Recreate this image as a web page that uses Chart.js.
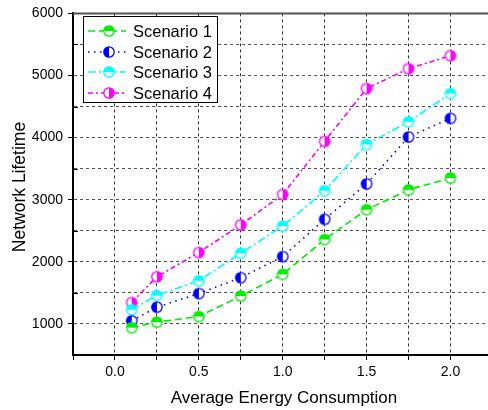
<!DOCTYPE html>
<html>
<head>
<meta charset="utf-8">
<script src="https://cdn.jsdelivr.net/npm/chart.js@4/dist/chart.umd.min.js"></script>
<style>
html,body{margin:0;padding:0;background:#fff;overflow:hidden;}
#wrap{width:500px;height:410px;}
</style>
</head>
<body>
<div id="wrap"><canvas id="c" width="500" height="410"></canvas></div>
<script>
const energy = [0.1, 0.25, 0.5, 0.75, 1.0, 1.25, 1.5, 1.75, 2.0];
const scenario1 = [940, 1030, 1120, 1450, 1800, 2360, 2840, 3160, 3350];
const scenario2 = [1050, 1270, 1490, 1745, 2085, 2685, 3255, 4010, 4310];
const scenario3 = [1230, 1460, 1695, 2140, 2575, 3145, 3890, 4255, 4710];
const scenario4 = [1345, 1760, 2150, 2595, 3085, 3940, 4790, 5110, 5320];
const seriesNames = ['Scenario 1', 'Scenario 2', 'Scenario 3', 'Scenario 4'];
const yTickValues = [1000, 2000, 3000, 4000, 5000, 6000];
const xTickValues = [0.0, 0.5, 1.0, 1.5, 2.0];

const FONT = '"Liberation Sans", Arial, sans-serif';

function halfMarker(color, half) {
  const s = 14, c = s / 2, r = 5.2;
  const cv = document.createElement('canvas');
  cv.width = s; cv.height = s;
  const g = cv.getContext('2d');
  g.fillStyle = '#fff';
  g.beginPath(); g.arc(c, c, r, 0, Math.PI * 2); g.fill();
  g.fillStyle = color;
  g.beginPath();
  let a0, a1;
  if (half === 'top') { a0 = Math.PI; a1 = Math.PI * 2; }
  else if (half === 'bottom') { a0 = 0; a1 = Math.PI; }
  else if (half === 'left') { a0 = Math.PI / 2; a1 = Math.PI * 1.5; }
  else { a0 = -Math.PI / 2; a1 = Math.PI / 2; }
  g.arc(c, c, r, a0, a1); g.closePath(); g.fill();
  g.strokeStyle = color; g.lineWidth = 1.3;
  g.beginPath(); g.arc(c, c, r, 0, Math.PI * 2); g.stroke();
  return cv;
}

const styles = [
  {color: '#00ee00', dash: [7, 4], half: 'top'},
  {color: '#0000ff', dash: [1.5, 4.5], half: 'left'},
  {color: '#00ffff', dash: [8, 3, 2, 3], half: 'top'},
  {color: '#ff00ff', dash: [5, 3, 2, 3], half: 'right'}
];
const allData = [scenario1, scenario2, scenario3, scenario4];

const datasets = allData.map((vals, i) => ({
  label: seriesNames[i],
  data: energy.map((x, j) => ({x: x, y: vals[j]})),
  borderColor: styles[i].color,
  backgroundColor: styles[i].color,
  borderWidth: 1.6,
  borderDash: styles[i].dash,
  pointStyle: halfMarker(styles[i].color, styles[i].half),
  pointRadius: 6,
  tension: 0,
  fill: false
}));

const isMult = (v, m) => Math.abs(v / m - Math.round(v / m)) < 1e-6;

const decor = {
  id: 'decor',
  afterDraw(chart) {
    const ctx = chart.ctx;
    const ca = chart.chartArea;
    const ys = chart.scales.y;
    ctx.save();
    // minor inward ticks on y axis
    ctx.strokeStyle = '#000'; ctx.lineWidth = 1;
    for (let v = ys.min; v <= ys.max; v += 500) {
      if (isMult(v, 1000)) continue;
      const y = Math.round(ys.getPixelForValue(v)) + 0.5;
      ctx.beginPath(); ctx.moveTo(ca.left, y); ctx.lineTo(ca.left + 5, y); ctx.stroke();
    }
    // top border
    ctx.strokeStyle = '#555'; ctx.lineWidth = 2;
    ctx.beginPath(); ctx.moveTo(ca.left, ca.top); ctx.lineTo(chart.width, ca.top); ctx.stroke();
    // y title
    ctx.fillStyle = '#000';
    ctx.font = '17.5px ' + FONT;
    ctx.textAlign = 'center'; ctx.textBaseline = 'middle';
    ctx.save();
    ctx.translate(20, 187); ctx.rotate(-Math.PI / 2);
    ctx.fillText('Network Lifetime', 0, 0);
    ctx.restore();
    // x title
    ctx.font = '17px ' + FONT;
    ctx.fillText('Average Energy Consumption', 284, 398);
    // legend
    const bx = 83.5, by = 16.5, bw = 134, bh = 86;
    ctx.fillStyle = '#fff'; ctx.fillRect(bx, by, bw, bh);
    ctx.strokeStyle = '#000'; ctx.lineWidth = 1; ctx.strokeRect(bx, by, bw, bh);
    const rows = [31, 52, 72, 93];
    chart.data.datasets.forEach((ds, i) => {
      const y = rows[i];
      ctx.save();
      ctx.strokeStyle = ds.borderColor; ctx.lineWidth = ds.borderWidth;
      ctx.setLineDash(ds.borderDash);
      ctx.beginPath(); ctx.moveTo(88, y); ctx.lineTo(126, y); ctx.stroke();
      ctx.restore();
      const m = ds.pointStyle;
      ctx.drawImage(m, 109 - m.width / 2, y - m.height / 2);
      ctx.fillStyle = '#000';
      ctx.font = '16.5px ' + FONT;
      ctx.textAlign = 'left'; ctx.textBaseline = 'middle';
      ctx.fillText(ds.label, 133, y + 1);
    });
    ctx.restore();
  }
};

new Chart(document.getElementById('c'), {
  type: 'line',
  data: {datasets: datasets},
  plugins: [decor],
  options: {
    responsive: false,
    animation: false,
    devicePixelRatio: 1,
    layout: {padding: {top: 11, right: 6, left: 0, bottom: 0}},
    plugins: {legend: {display: false}, tooltip: {enabled: false}},
    scales: {
      x: {
        type: 'linear',
        min: -0.25, max: 2.25,
        afterFit(s) { s.height = 55; },
        afterBuildTicks(s) {
          const t = [];
          for (let v = -0.25; v <= 2.25 + 1e-9; v += 0.25) t.push({value: Math.round(v * 100) / 100});
          s.ticks = t;
        },
        ticks: {
          autoSkip: false, maxRotation: 0, padding: 4,
          color: '#000', font: {family: FONT, size: 14},
          callback: (v) => xTickValues.some(t => Math.abs(t - v) < 1e-6) ? Number(v).toFixed(1) : ''
        },
        grid: {
          color: (c) => (c.tick && (c.tick.value <= -0.25 + 1e-6 || c.tick.value >= 2.25 - 1e-6)) ? 'rgba(0,0,0,0)' : '#333',
          lineWidth: 1, drawTicks: true, tickLength: 5, tickColor: '#000', tickWidth: 1
        },
        border: {display: true, color: '#000', width: 2, dash: [3, 3]}
      },
      y: {
        type: 'linear',
        min: 500, max: 6000,
        afterFit(s) { s.width = 73; },
        afterBuildTicks(s) {
          const t = [];
          for (let v = 500; v <= 6000; v += 500) t.push({value: v});
          s.ticks = t;
        },
        ticks: {
          autoSkip: false, padding: 5,
          color: '#000', font: {family: FONT, size: 14},
          callback: (v) => yTickValues.includes(v) ? String(v) : ''
        },
        grid: {
          color: (c) => (c.tick && (c.tick.value === 500 || c.tick.value === 6000)) ? 'rgba(0,0,0,0)' : '#555',
          lineWidth: 1, drawTicks: true, tickLength: 5,
          tickColor: (c) => (c.tick && isMult(c.tick.value, 1000)) ? '#000' : 'rgba(0,0,0,0)',
          tickWidth: 1
        },
        border: {display: true, color: '#000', width: 2, dash: [3, 3]}
      }
    }
  }
});
</script>
</body>
</html>
